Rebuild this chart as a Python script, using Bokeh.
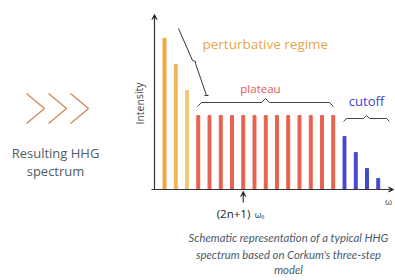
from bokeh.plotting import figure
from bokeh.models import Range1d, Label, Arrow, VeeHead
from bokeh.embed import file_html
from bokeh.resources import INLINE

# ---- data ----
harmonic_index = list(range(20))
perturbative_idx = [0, 1, 2]
perturbative_vals = [8.68, 7.18, 5.69]
plateau_idx = list(range(3, 16))
plateau_vals = [4.25] * 13
cutoff_idx = [16, 17, 18, 19]
cutoff_vals = [3.05, 2.13, 1.21, 0.63]
perturbative_colors = ["#F1A53A", "#F3B455", "#F5C776"]
plateau_color = "#E8614F"
cutoff_color = "#4747CF"

# page-pixel -> data helpers (for annotation placement)
X0, DX = 164.0, 11.25
Y0, DY = 189.0, 17.4
def px(x):
    return (x - X0) / DX
def py(y):
    return (Y0 - y) / DY

p = figure(width=395, height=280, output_backend="svg", toolbar_location=None,
           x_axis_type=None, y_axis_type=None,
           x_range=Range1d(px(0), px(395)), y_range=Range1d(py(280), py(0)),
           min_border=0, outline_line_color=None)
p.xgrid.visible = False
p.ygrid.visible = False
p.background_fill_color = "white"

# bars
p.vbar(x=perturbative_idx, top=perturbative_vals, width=0.26, color=perturbative_colors)
p.vbar(x=plateau_idx, top=plateau_vals, width=0.26, color=plateau_color)
p.vbar(x=cutoff_idx, top=cutoff_vals, width=0.26, color=cutoff_color)

# axes (arrows)
p.add_layout(Arrow(end=VeeHead(size=5, line_color="#333", line_width=1),
                   x_start=px(154), y_start=py(189), x_end=px(154), y_end=py(14),
                   line_color="#333", line_width=1.2))
p.add_layout(Arrow(end=VeeHead(size=5, line_color="#333", line_width=1),
                   x_start=px(151), y_start=py(189), x_end=px(393), y_end=py(189),
                   line_color="#333", line_width=1.2))
p.add_layout(Label(x=px(388), y=py(201), text="ω", text_font_size="9px",
                   text_color="#555", text_align="center", text_baseline="middle"))
p.add_layout(Label(x=px(139), y=py(103), text="Intensity", angle=1.5708,
                   text_font="Open Sans", text_font_size="10.5px", text_color="#444",
                   text_align="center", text_baseline="middle"))

# harmonic arrow
p.add_layout(Arrow(end=VeeHead(size=5, line_color="#333", line_width=1),
                   x_start=7, y_start=py(202), x_end=7, y_end=py(191),
                   line_color="#333", line_width=1.2))
p.add_layout(Label(x=px(233), y=py(213), text="(2n+1)", text_font="Open Sans",
                   text_font_size="11.5px", text_color="#222",
                   text_align="center", text_baseline="middle"))
p.add_layout(Label(x=px(259), y=py(214), text="ω₀", text_font="Open Sans",
                   text_font_size="8.5px", text_color="#333",
                   text_align="center", text_baseline="middle"))

# braces
def brace(x0, x1, y, d=4, c=4):
    xm = (x0 + x1) / 2
    xs = [x0, x0 + c, xm - c, xm, xm + c, x1 - c, x1]
    ys = [y + d, y, y, y - d, y, y, y + d]
    return [px(v) for v in xs], [py(v) for v in ys]

bx, by = brace(197, 333, 102)
p.line(bx, by, line_color="#444", line_width=1)
bx, by = brace(343, 389, 118, d=3, c=3)
p.line(bx, by, line_color="#444", line_width=1)
# diagonal brace near perturbative bars
p.line([px(178), px(192), px(195), px(195), px(206)],
       [py(28), py(60), py(61), py(63), py(95)], line_color="#333", line_width=1)
p.line([px(204), px(208)], [py(95), py(95)], line_color="#333", line_width=1)

# region labels
p.add_layout(Label(x=px(202), y=py(43), text="perturbative regime", text_font="Open Sans",
                   text_font_size="13.5px", text_color="#E9A64C",
                   text_align="left", text_baseline="middle"))
p.add_layout(Label(x=px(260), y=py(88), text="plateau", text_font="Open Sans",
                   text_font_size="11.5px", text_color="#E9584E",
                   text_align="center", text_baseline="middle"))
p.add_layout(Label(x=px(366), y=py(100), text="cutoff", text_font="Open Sans",
                   text_font_size="13px", text_color="#4545D2",
                   text_align="center", text_baseline="middle"))

# chevrons
for x in (26, 48, 70):
    p.line([px(x), px(x + 18), px(x)], [py(93), py(108), py(123)],
           line_color="#D38A5E", line_width=1.4)

p.add_layout(Label(x=px(55), y=py(152), text="Resulting HHG", text_font="Open Sans",
                   text_font_size="13px", text_color="#525a63",
                   text_align="center", text_baseline="middle"))
p.add_layout(Label(x=px(55), y=py(170), text="spectrum", text_font="Open Sans",
                   text_font_size="13px", text_color="#525a63",
                   text_align="center", text_baseline="middle"))

caption = ["Schematic representation of a typical HHG",
           "spectrum based on Corkum's three-step",
           "model"]
for line, yy in zip(caption, (237, 254, 269)):
    p.add_layout(Label(x=px(288), y=py(yy), text=line, text_font="Lato",
                       text_font_style="italic", text_font_size="11.3px",
                       text_color="#4a5a6c", text_align="center", text_baseline="middle"))

open("out.html", "w").write(file_html(p, INLINE))
